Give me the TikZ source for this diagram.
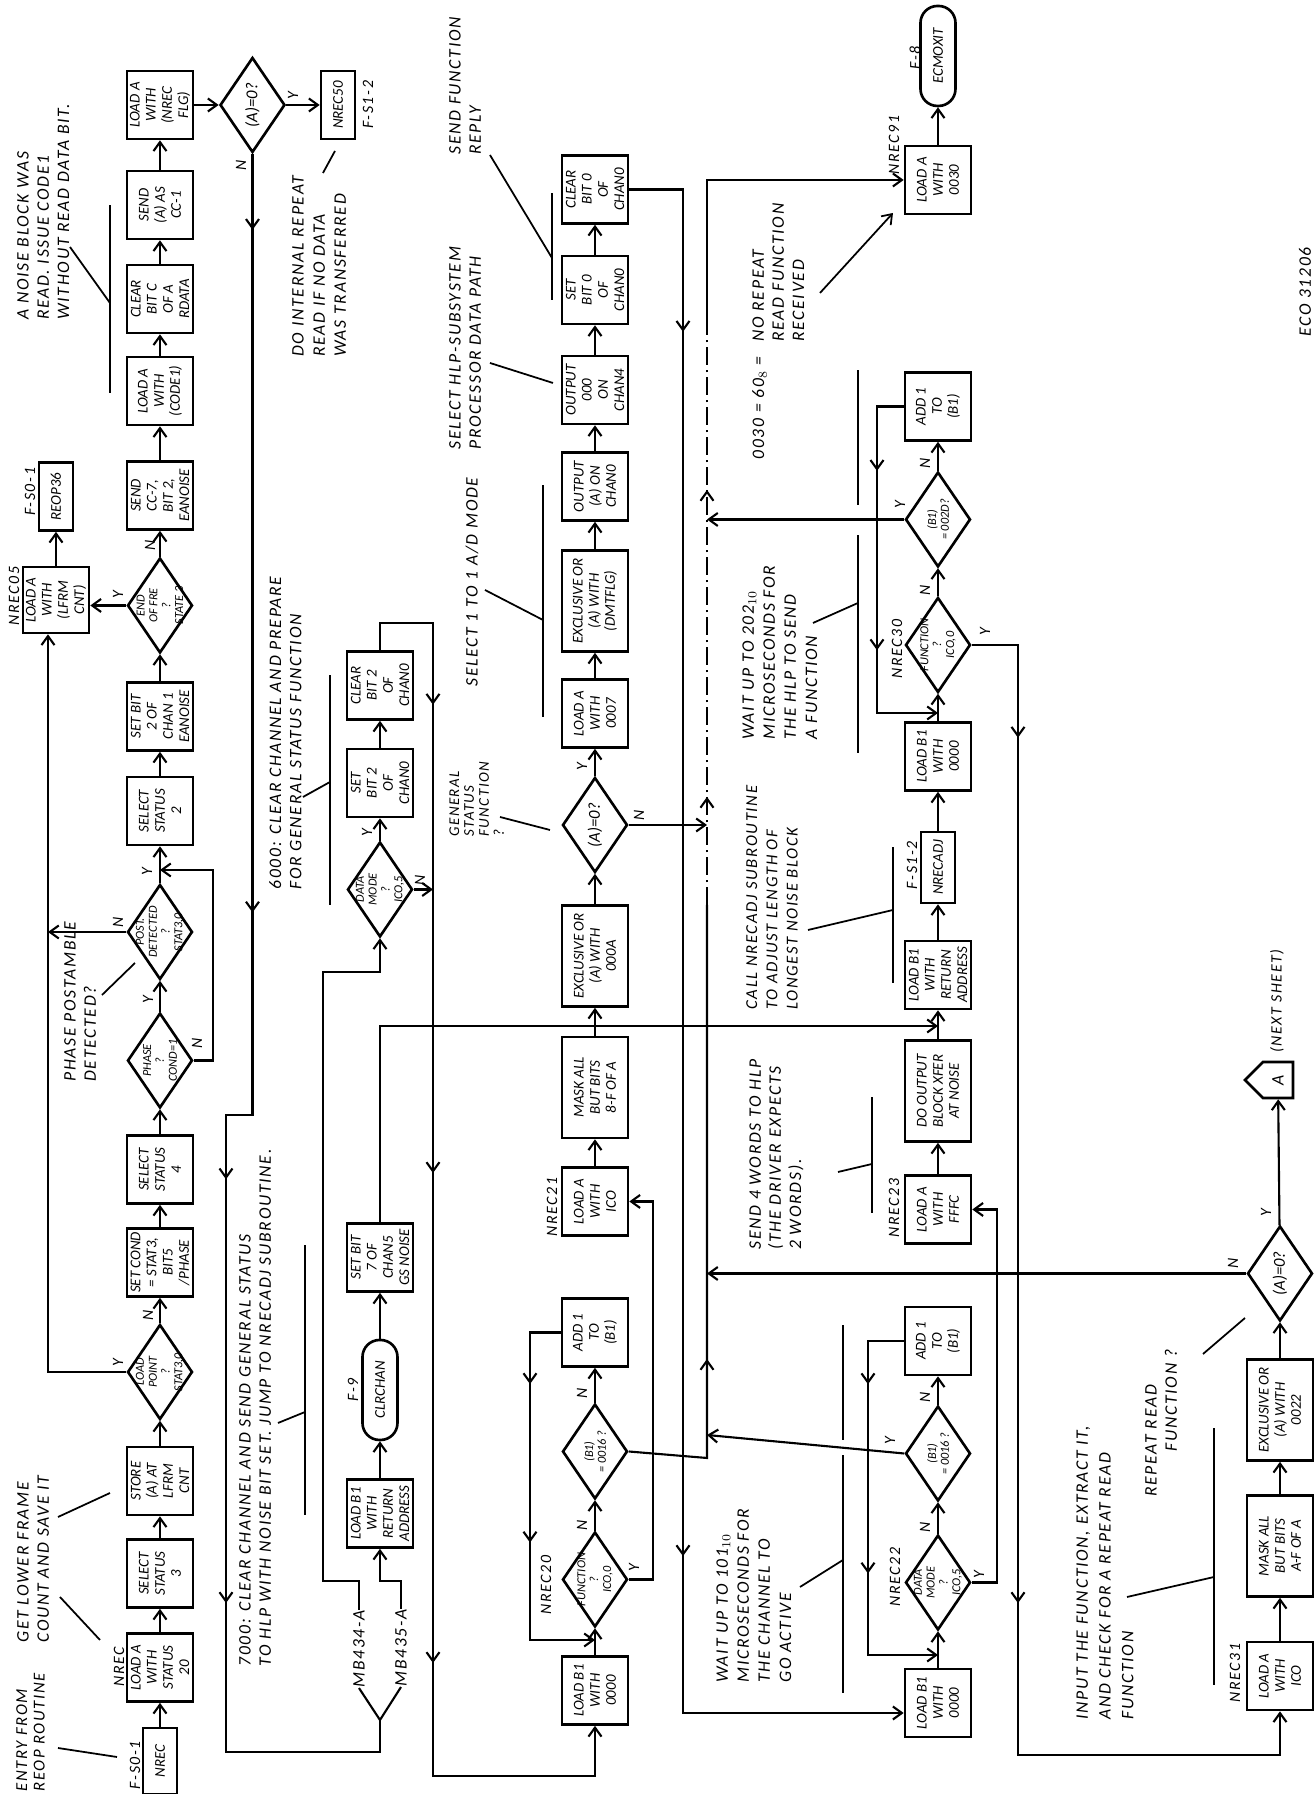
\documentclass[tikz,border=0pt]{standalone}
\usepackage{fontspec}
\setmainfont{Carlito}
\newfontfamily\notefam{Carlito}[LetterSpace=10]
\usetikzlibrary{arrows.meta, shapes.geometric, shapes.symbols, decorations.markings}

\newcommand\bxfont{\itshape\fontsize{8.5}{9.2}\selectfont}
\newcommand\ntfont{\notefam\itshape\fontsize{10}{11.5}\selectfont}
\newcommand\lbfont{\notefam\itshape\fontsize{9}{10}\selectfont}
\newcommand\dgfont{\itshape\fontsize{7}{7.3}\selectfont}
\newcommand\dgbig{\fontsize{9.5}{10}\selectfont}

\tikzset{
  myhead/.tip={Straight Barb[length=1.8mm,width=2.6mm]},
  box/.style={draw, line width=1.5pt, minimum width=13.6mm, minimum height=13.2mm, inner sep=0.3pt, align=center, font=\bxfont},
  widebox/.style={box, minimum width=20.2mm},
  smallbox/.style={box, minimum height=6.8mm},
  term/.style={draw, line width=1.5pt, rounded corners=3.4mm, minimum width=20mm, minimum height=7mm, font=\bxfont},
  dia/.style={draw, diamond, line width=1.5pt, minimum width=19mm, minimum height=13mm, inner sep=0pt, label={[dlab]center:{#1}}},
  dlab/.style={font=\dgfont, align=center, inner sep=0pt},
  conn/.style={line width=1.2pt},
  arr/.style={conn, -myhead},
  busdash/.style={conn, dash pattern=on 3.5mm off 1mm on 0.5mm off 1mm},
  midtip/.style={postaction={decorate, decoration={markings, mark=at position #1 with {\arrow{myhead}}}}},
  note/.style={font=\ntfont, align=left, inner sep=0pt, anchor=north west},
  lab/.style={font=\lbfont, inner sep=0pt},
  yn/.style={font=\lbfont, inner sep=0pt},
  callout/.style={line width=1pt},
}

\begin{document}
\begin{tikzpicture}[x=0.2mm, y=0.2mm, rotate=90, transform shape]
    \useasboundingbox (0,0) rectangle (1794,1315);
    \fill[white] (0,0) rectangle (1794,1315);

    % first row: frame count and status checks
    \node[smallbox, minimum width=13.2mm] (nrec) at (33,1155) {NREC};
    \node[box] (ldst) at (126.5,1155) {LOAD A\\WITH\\STATUS\\20};
    \node[box] (sel3) at (220.5,1155) {SELECT\\STATUS\\3};
    \node[box] (store) at (313,1155) {STORE\\(A) AT\\LFRM\\CNT};
    \node[dia={LOAD\\POINT\\?\\STAT3,0}] (dlp) at (422,1155) {};
    \node[box] (setcond) at (531.5,1155) {SET COND\\= STAT3,\\BIT5\\/PHASE};
    \node[box] (sel4) at (624.5,1155) {SELECT\\STATUS\\4};
    \node[dia={PHASE\\?\\COND=1}] (dph) at (733.5,1155) {};
    \node[dia={POST.\\DETECTED\\?\\STAT3,0}] (dpo) at (862,1155) {};
    \node[box] (sel2) at (983,1155) {SELECT\\STATUS\\2};
    \node[box] (setb2a) at (1077.5,1155) {SET BIT\\2 OF\\CHAN 1\\EANOISE};
    \node[dia={END\\OF FRE\\?\\STATE 3}] (dend) at (1188.5,1155) {};
    \node[box] (send7) at (1298.5,1155) {SEND\\CC-7,\\BIT 2,\\EANOISE};
    \node[box] (ldcode) at (1403,1155) {LOAD A\\WITH\\(CODE1)};
    \node[box] (clrc) at (1495,1155) {CLEAR\\BIT C\\OF A\\RDATA};
    \node[box] (sendcc) at (1589,1155) {SEND\\(A) AS\\CC-1};
    \node[box] (ldflg) at (1689,1155) {LOAD A\\WITH\\(NREC\\FLG)};
    \node[dia={\dgbig (A)=0?}] (da0a) at (1689,1062.5) {};
    \node[smallbox] (nrec50) at (1689,977) {NREC50};
    \node[box, minimum width=13.2mm] (nrec05) at (1194,1259) {LOAD A\\WITH\\(LFRM\\CNT)};
    \node[smallbox] (reop36) at (1297.5,1259) {REOP36};

    % second group: general status / noise
    \node[box] (ldret) at (280.5,935) {LOAD B1\\WITH\\RETURN\\ADDRESS};
    \node[term] (clrchan) at (404,935) {CLRCHAN};
    \node[box] (setb7) at (536.5,935) {SET BIT\\7 OF\\CHAN5\\GS NOISE};
    \node[dia={DATA\\MODE\\?\\ICO,5}] (ddm) at (904.5,935) {};
    \node[box] (setb2) at (1011,935) {SET\\BIT 2\\OF\\CHAN0};
    \node[box] (clrb2) at (1108.5,935) {CLEAR\\BIT 2\\OF\\CHAN0};
    \node[lab, font=\ntfont] (mb434) at (145,956) {MB434-A};
    \node[lab, font=\ntfont] (mb435) at (146,914) {MB435-A};
    \coordinate (fork) at (74,935);

    % third row: wait for function
    \node[box] (ldb0c) at (103.5,720) {LOAD B1\\WITH\\0000};
    \node[dia={FUNCTION\\?\\ICO,0}] (dfnc) at (214.5,720) {};
    \node[dia={(B1)\\= 0016 ?}] (d16c) at (342.5,720) {};
    \node[box] (add1c) at (461.5,720) {ADD 1\\TO\\(B1)};
    \node[box] (nrec21) at (592.5,720) {LOAD A\\WITH\\ICO};
    \node[widebox] (maskc) at (706.5,720) {MASK ALL\\BUT BITS\\8-F OF A};
    \node[widebox] (xora) at (838,720) {EXCLUSIVE OR\\(A) WITH\\000A};
    \node[dia={\dgbig (A)=0?}] (da0c) at (969,720) {};
    \node[box] (ld7) at (1080.5,720) {LOAD A\\WITH\\0007};
    \node[widebox] (xord) at (1193,720) {EXCLUSIVE OR\\(A) WITH\\(DMTFLG)};
    \node[box] (outa) at (1307.5,720) {OUTPUT\\(A) ON\\CHAN0};
    \node[box] (out4) at (1404,720) {OUTPUT\\000\\ON\\CHAN4};
    \node[box] (setb0) at (1504,720) {SET\\BIT 0\\OF\\CHAN0};
    \node[box] (clrb0) at (1604.5,720) {CLEAR\\BIT 0\\OF\\CHAN0};

    % fourth row: block transfer and repeat wait
    \node[box] (ldb0d) at (91,377) {LOAD B1\\WITH\\0000};
    \node[dia={DATA\\MODE\\?\\ICO,5}] (ddmd) at (211.5,377) {};
    \node[dia={(B1)\\= 0016 ?}] (d16d) at (340.5,377) {};
    \node[box] (add1d) at (453,377) {ADD 1\\TO\\(B1)};
    \node[box] (nrec23) at (584.5,377) {LOAD A\\WITH\\FFFC};
    \node[widebox] (doout) at (703,377) {DO OUTPUT\\BLOCK XFER\\AT NOISE};
    \node[box] (ldretd) at (819,377) {LOAD B1\\WITH\\RETURN\\ADDRESS};
    \node[smallbox, minimum width=14.2mm] (nrecadj) at (926.5,377) {NRECADJ};
    \node[box] (ldb0e) at (1037.5,377) {LOAD B1\\WITH\\0000};
    \node[dia={FUNCTION\\?\\ICO,0}] (dfnd) at (1149,377) {};
    \node[dia={(B1)\\= 002D?}] (d2d) at (1274.5,377) {};
    \node[box] (add1e) at (1387.5,377) {ADD 1\\TO\\(B1)};
    \node[box] (nrec91) at (1614,377) {LOAD A\\WITH\\0030};
    \node[term] (ecmoxit) at (1738,377) {ECMOXIT};

    % fifth row: repeat read check
    \node[box] (nrec31) at (118,35) {LOAD A\\WITH\\ICO};
    \node[widebox] (maske) at (248,35) {MASK ALL\\BUT BITS\\A-F OF A};
    \node[widebox] (xore) at (384,35) {EXCLUSIVE OR\\(A) WITH\\0022};
    \node[dia={\dgbig (A)=0?}] (da0e) at (520.5,35) {};
    \node[draw, line width=1.5pt, signal, signal to=north, minimum width=7.2mm, minimum height=7mm, inner sep=0pt, font=\ntfont] (cona) at (714,37) {A};

    % entry names
    \node[lab] (lfs1) at (29,1180) {F-S0-1};
    \node[lab] (lnrec) at (127,1196) {NREC};
    \node[lab] (lnrec05) at (1198,1301) {NREC05};
    \node[lab] (lfs2) at (1302,1285) {F-S0-1};
    \node[lab] (lfs3) at (1689,947) {F-S1-2};
    \node[lab] (lf9) at (404,962) {F-9};
    \node[lab] (lnrec20) at (209,769) {NREC20};
    \node[lab] (lnrec21) at (587,763) {NREC21};
    \node[lab] (lnrec22) at (217,420) {NREC22};
    \node[lab] (lnrec23) at (586,421) {NREC23};
    \node[lab] (lfs4) at (929,403) {F-S1-2};
    \node[lab] (lnrec30) at (1145,418) {NREC30};
    \node[lab] (lnrec91) at (1649,421) {NREC91};
    \node[lab] (lf8) at (1736,400) {F-8};
    \node[lab] (lnrec31) at (121,80) {NREC31};

    % row connectors
    \draw[arr] (nrec) -- (ldst);
    \draw[arr] (ldst) -- (sel3);
    \draw[arr] (sel3) -- (store);
    \draw[arr] (store) -- (dlp);
    \draw[arr] (dlp) -- (setcond);
    \draw[arr] (setcond) -- (sel4);
    \draw[arr] (sel4) -- (dph);
    \draw[arr] (dph) -- (dpo);
    \draw[arr] (dpo) -- (sel2);
    \draw[arr] (sel2) -- (setb2a);
    \draw[arr] (setb2a) -- (dend);
    \draw[arr] (dend) -- (send7);
    \draw[arr] (send7) -- (ldcode);
    \draw[arr] (ldcode) -- (clrc);
    \draw[arr] (clrc) -- (sendcc);
    \draw[arr] (sendcc) -- (ldflg);
    \draw[arr] (ldflg) -- (da0a);
    \draw[arr] (da0a) -- (nrec50);
    \draw[arr] (nrec05) -- (reop36);
    \draw[arr] (dend.north) -- (dend.north |- nrec05.south);
    \coordinate (bus0) at (422,1267);
    \draw[arr] (dlp.north) -- (bus0) -- (bus0 -| nrec05.west);
    \draw[arr] (dpo.north) -- (dpo.north |- bus0);
    \coordinate (phn) at (924,1102);
    \draw[arr] (dph.south) |- (phn) -- (phn |- sel2.west);
    \draw[conn, midtip=0.042, midtip=0.419, midtip=0.581, midtip=0.815]
        (da0a.west) -- (679,1062.5) -- (679,1089) -- (42,1089) -- (42,935) -- (fork);
    \draw[conn] (fork) -- (mb434.west);
    \draw[conn] (fork) -- (mb435.west);

    \draw[arr] (mb434.east) -- ++(29,0) |- (822,992) |- (ddm.west);
    \draw[arr] (mb435.east) -- ++(28,0) |- (ldret.west);
    \draw[arr] (ldret) -- (clrchan);
    \draw[arr] (clrchan) -- (setb7);
    \draw[arr] (setb7.east) -- (768,935) -- (768,377);
    \draw[arr] (ddm.east) -- (setb2);
    \draw[arr] (setb2) -- (clrb2);
    \draw[arr] (ddm.south) -- (904.5,882);
    \draw[arr, midtip=0.112, midtip=0.436, midtip=0.775]
        (clrb2.east) -- (1171,935) |- (18,882) |- (ldb0c.west);

    \draw[arr] (ldb0c) -- (dfnc);
    \draw[arr] (dfnc) -- (d16c);
    \draw[arr] (d16c) -- (add1c);
    \draw[arr, midtip=0.204, midtip=0.597] (add1c.north) |- (154,785) -- (154,720);
    \draw[arr] (dfnc.south) -- ++(0,-24.5) -| (nrec21.south);
    \draw[arr] (nrec21) -- (maskc);
    \draw[arr] (maskc) -- (xora);
    \draw[arr] (xora) -- (da0c);
    \draw[arr] (da0c) -- (ld7);
    \draw[arr] (ld7) -- (xord);
    \draw[arr] (xord) -- (outa);
    \draw[arr] (outa) -- (out4);
    \draw[arr] (out4) -- (setb0);
    \draw[arr] (setb0) -- (clrb0);
    \coordinate (retY) at (81,632);
    \draw[arr, midtip=0.109, midtip=0.79]
        (clrb0.south) -- (clrb0.south |- retY) -- (retY) -- (retY |- ldb0d.north);

    % bus to NREC91
    \coordinate (busS) at (336,608);
    \coordinate (busA) at (889,608);
    \coordinate (busB) at (1467,608);
    \coordinate (busE) at (1614,608);
    \draw[conn, midtip=0.281] (d16c.south) -- (busS) -- (busA);
    \draw[busdash, midtip=0.187, midtip=0.718] (busA) -- (busB);
    \draw[arr] (busB) -- (busE) -- (nrec91.north);
    \draw[arr] (da0c.south) -- (da0c.south |- busS);

    \draw[arr] (ldb0d) -- (ddmd);
    \draw[arr] (ddmd) -- (d16d);
    \draw[arr] (d16d) -- (add1d);
    \draw[arr, midtip=0.188, midtip=0.639] (add1d.north) |- (139,447) -- (139,377);
    \draw[arr] (d16d.north) -- (359,608);
    \draw[arr] (ddmd.south) |- (584.5,318) -- (nrec23.south);
    \draw[arr] (nrec23) -- (doout);
    \draw[arr] (doout) -- (ldretd);
    \draw[arr] (ldretd) -- (nrecadj);
    \draw[arr] (nrecadj) -- (ldb0e);
    \draw[arr] (ldb0e) -- (dfnd);
    \draw[arr] (dfnd) -- (d2d);
    \draw[arr] (d2d) -- (add1e);
    \draw[arr] (d2d.north) -- (d2d.north |- busS);
    \draw[arr, midtip=0.231, midtip=0.686] (add1e.north) |- (1081,438) -- (1081,377);
    \draw[arr, midtip=0.095, midtip=0.687] (dfnd.south) |- (39,297) |- (nrec31.west);
    \draw[arr] (nrec91) -- (ecmoxit);

    \draw[arr] (nrec31) -- (maske);
    \draw[arr] (maske) -- (xore);
    \draw[arr] (xore) -- (da0e);
    \draw[arr] (da0e) -- (cona);
    \draw[arr] (da0e.north) -- (da0e.north |- busS);

    % Y / N marks
    \node[yn] (ylp) at (431,1197) {Y};
    \node[yn] (nlp) at (479,1167) {N};
    \node[yn] (nph) at (751,1118) {N};
    \node[yn] (yph) at (794,1167) {Y};
    \node[yn] (npo) at (872,1197) {N};
    \node[yn] (ypo) at (922,1168) {Y};
    \node[yn] (yend) at (1199,1197) {Y};
    \node[yn] (nend) at (1249,1165) {N};
    \node[yn] (na0a) at (1629,1074) {N};
    \node[yn] (ya0a) at (1698,1022) {Y};
    \node[yn] (ndm) at (914,895) {N};
    \node[yn] (ydm) at (961,948) {Y};
    \node[yn] (yfnc) at (226,681) {Y};
    \node[yn] (nfnc) at (269,733) {N};
    \node[yn] (n16c) at (401,733) {N};
    \node[yn] (ya0c) at (1027,733) {Y};
    \node[yn] (na0c) at (979,676) {N};
    \node[yn] (ydmd) at (219,336) {Y};
    \node[yn] (ndmd) at (267,390) {N};
    \node[yn] (n16d) at (397,390) {N};
    \node[yn] (y16d) at (353,425) {Y};
    \node[yn] (nfnd) at (1204,390) {N};
    \node[yn] (yfnd) at (1162,330) {Y};
    \node[yn] (n2d) at (1331,390) {N};
    \node[yn] (y2d) at (1289,415) {Y};
    \node[yn] (ya0e) at (581,49) {Y};
    \node[yn] (na0e) at (531,82) {N};

    % notes and their call-out lines
    \node[note, font=\notefam\itshape\fontsize{9.5}{10}\selectfont] (entry) at (2,1299) {ENTRY FROM\\REOP ROUTINE};
    \draw[callout] (46,1257) -- (37,1198);
    \node[note] (getlow) at (151,1298) {GET LOWER FRAME\\COUNT AND SAVE IT};
    \draw[callout] (277,1257) -- (301,1205);
    \draw[callout] (197,1255) -- (154,1215);
    \node[note] (phnote) at (712,1251) {PHASE POSTAMBLE\\DETECTED?};
    \draw[callout] (799,1213) -- (831,1180);
    \node[note] (noise) at (1474,1298) {A NOISE BLOCK WAS\\READ. ISSUE CODE1\\WITHOUT READ DATA BIT.};
    \draw[callout] (1401,1205) -- (1589,1205);
    \draw[callout] (1547,1245) -- (1491,1205);
    \node[note, font=\notefam\itshape\fontsize{10}{12}\selectfont] (intrep) at (1437,1023) {DO INTERNAL REPEAT\\READ IF NO DATA\\WAS TRANSFERRED};
    \draw[callout] (1621,992) -- (1643,980);
    \node[note] (n6000) at (904,1046) {6000: CLEAR CHANNEL AND PREPARE\\FOR GENERAL STATUS FUNCTION};
    \draw[callout] (889,985) -- (1119,985);
    \draw[callout] (997,1012) -- (1012,985);
    \node[note] (n7000) at (127,1076) {7000: CLEAR CHANNEL AND SEND GENERAL STATUS\\TO HLP WITH NOISE BIT SET. JUMP TO NRECADJ SUBROUTINE.};
    \draw[callout] (279,1010) -- (549,1010);
    \draw[callout] (371,1037) -- (382,1010);
    \node[note, font=\notefam\itshape\fontsize{8.5}{8.5}\selectfont] (genst) at (957,866) {GENERAL\\STATUS\\FUNCTION\\?};
    \draw[callout] (977,815) -- (964,765);
    \node[note, anchor=west] (sel11) at (1107,843) {SELECT 1 TO 1 A/D MODE};
    \draw[callout] (1077,772) -- (1309,772);
    \draw[callout] (1204,830) -- (1174,772);
    \node[note] (hlp) at (1344,866) {SELECT HLP-SUBSYSTEM\\PROCESSOR DATA PATH};
    \draw[callout] (1431,825) -- (1411,762);
    \node[note] (sfr) at (1639,866) {SEND FUNCTION\\REPLY};
    \draw[callout] (1494,763) -- (1601,763);
    \draw[callout] (1639,825) -- (1536,763);
    \node[note, font=\notefam\itshape\fontsize{10}{12}\selectfont] (w202) at (1054,573) {WAIT UP TO 202$_{10}$\\MICROSECONDS FOR\\THE HLP TO SEND\\A FUNCTION};
    \draw[callout] (1041,457) -- (1259,457);
    \draw[callout] (1289,457) -- (1424,457);
    \draw[callout] (1171,502) -- (1191,457);
    \node[note, font=\notefam\itshape\fontsize{9.5}{11.5}\selectfont] (cadj) at (784,569) {CALL NRECADJ SUBROUTINE\\TO ADJUST LENGTH OF\\LONGEST NOISE BLOCK};
    \draw[callout] (811,422) -- (947,422);
    \draw[callout] (864,507) -- (884,422);
    \node[note] (s4w) at (544,566) {SEND 4 WORDS TO HLP\\(THE DRIVER EXPECTS\\2 WORDS).};
    \draw[callout] (581,443) -- (697,443);
    \draw[callout] (622,477) -- (630,443);
    \node[note, font=\notefam\itshape\fontsize{10}{12}\selectfont] (w101) at (111,599) {WAIT UP TO 101$_{10}$\\MICROSECONDS FOR\\THE CHANNEL TO\\GO ACTIVE};
    \draw[callout] (101,472) -- (339,472);
    \draw[callout] (354,472) -- (469,472);
    \draw[callout] (207,515) -- (234,472);
    \node[note] (n0030) at (1334,563) {0030 = 60$_8$ =};
    \node[note] (norep) at (1452,563) {NO REPEAT\\READ FUNCTION\\RECEIVED};
    \draw[callout, -myhead] (1501,495) -- (1581,422);
    \node[note, font=\notefam\itshape\fontsize{10}{13}\selectfont] (inpf) at (74,239) {INPUT THE FUNCTION, EXTRACT IT,\\AND CHECK FOR A REPEAT READ\\FUNCTION};
    \draw[callout] (109,101) -- (366,101);
    \draw[callout] (197,188) -- (217,101);
    \node[note] (rrf) at (297,170) {REPEAT READ\\\hspace*{9mm}FUNCTION ?};
    \draw[callout] (440,112) -- (476,70);
    \node[lab] (nxt) at (793,38) {(NEXT SHEET)};
    \node[lab, font=\ntfont] (eco) at (1502,10) {ECO 31206};
\end{tikzpicture}
\end{document}
